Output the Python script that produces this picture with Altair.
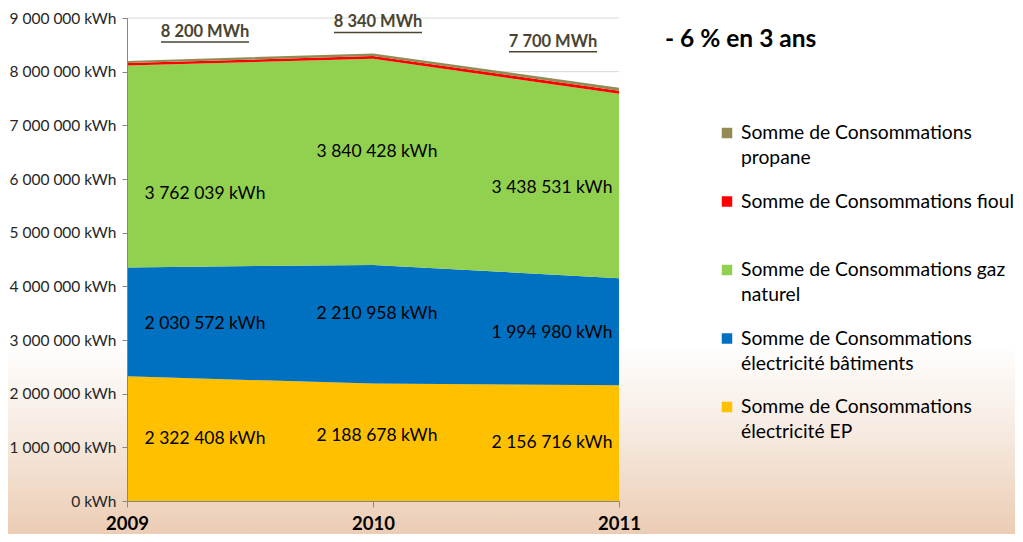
import altair as alt
import pandas as pd

years = [2009, 2010, 2011]
series = [
    "Somme de Consommations électricité EP",
    "Somme de Consommations électricité bâtiments",
    "Somme de Consommations gaz naturel",
    "Somme de Consommations fioul",
    "Somme de Consommations propane",
]
ep = [2322408, 2188678, 2156716]
bat = [2030572, 2210958, 1994980]
gaz = [3762039, 3840428, 3438531]
fioul = [45000, 50000, 55000]
propane = [40000, 50000, 55000]
colors = ["#FFC000", "#0070C0", "#92D050", "#FF0000", "#948A54"]
legend_lines = [
    "Somme de Consommations\nélectricité EP",
    "Somme de Consommations\nélectricité bâtiments",
    "Somme de Consommations gaz\nnaturel",
    "Somme de Consommations fioul",
    "Somme de Consommations\npropane",
]
totals_labels = ["8 200 MWh", "8 340 MWh", "7 700 MWh"]
change_label = "- 6 % en 3 ans"
y_ticks = [0, 1000000, 2000000, 3000000, 4000000, 5000000, 6000000, 7000000, 8000000, 9000000]

FONT = "Lato"
W, H = 492, 483
YMAX = 9000000

values = [ep, bat, gaz, fioul, propane]
rows = []
for si, (name, vals) in enumerate(zip(series, values)):
    for y, v in zip(years, vals):
        rows.append({"year": str(y), "series": name, "value": v, "order": si})
df = pd.DataFrame(rows)

x_scale = alt.Scale(type="point", domain=[str(y) for y in years], padding=0)
y_scale = alt.Scale(domain=[0, YMAX], nice=False)
x_axis = alt.Axis(title=None, grid=False, zindex=1, labelAngle=0,
                  labelFontSize=18.5, labelFontWeight="bold", labelColor="#000000",
                  labelPadding=7, tickSize=6, tickColor="#868686", labelOverlap=False,
                  domainColor="#868686", labelFont=FONT, labelFlush=False)
y_axis = alt.Axis(values=y_ticks, title=None, grid=False, zindex=1,
                  labelExpr="replace(format(datum.value, ','), /,/g, ' ') + ' kWh'",
                  labelFontSize=15.5, labelColor="#262626", labelFont=FONT,
                  tickSize=5, tickColor="#868686", labelOverlap=False,
                  domainColor="#868686", labelPadding=6)

bg = alt.Chart(pd.DataFrame({"a": [0]})).mark_rect(
    color=alt.Gradient(gradient="linear", x1=0, x2=0, y1=0, y2=1,
                       stops=[alt.GradientStop(offset=0, color="#ffffff"),
                              alt.GradientStop(offset=0.63, color="#ffffff"),
                              alt.GradientStop(offset=0.8, color="#F6EAE0"),
                              alt.GradientStop(offset=1, color="#EBCAB0")])
).encode(x=alt.value(-127), x2=alt.value(900), y=alt.value(-18), y2=alt.value(524))

grid = alt.Chart(pd.DataFrame({"v": y_ticks})).mark_rule(color="#d9d9d9", strokeWidth=1).encode(
    y=alt.Y("v:Q", scale=y_scale, axis=y_axis), x=alt.value(0), x2=alt.value(W)
)

area = alt.Chart(df).mark_area(opacity=1).encode(
    x=alt.X("year:O", scale=x_scale, axis=x_axis),
    y=alt.Y("value:Q", stack="zero", scale=y_scale, axis=y_axis),
    color=alt.Color("series:N", scale=alt.Scale(domain=series, range=colors), legend=None),
    order=alt.Order("order:Q"),
)

# value labels at the middle of each main band (with Excel-like placement offsets)
dxs = {2009: 78, 2010: 4, 2011: -67}
dys = {(2009, 0): 0, (2009, 1): 2, (2009, 2): 28,
       (2010, 0): -6, (2010, 1): -10, (2010, 2): -10,
       (2011, 0): 0, (2011, 1): 1, (2011, 2): 2}
label_layers = []
for y_i, yr in enumerate(years):
    base = 0
    for si in range(3):
        v = values[si][y_i]
        ldf = pd.DataFrame({"year": [str(yr)], "mid": [base + v / 2],
                            "text": [f"{v:,}".replace(",", " ") + " kWh"]})
        base += v
        label_layers.append(
            alt.Chart(ldf).mark_text(
                dx=dxs[yr], dy=dys[(yr, si)], fontSize=17.5, font=FONT, color="#000000"
            ).encode(x=alt.X("year:O", scale=x_scale, axis=x_axis),
                     y=alt.Y("mid:Q", scale=y_scale, axis=y_axis), text="text:N")
        )

# totals annotations
tot_vals = [sum(v[i] for v in values) for i in range(3)]
tot_df = pd.DataFrame({"year": [str(y) for y in years], "total": tot_vals, "text": totals_labels})
tdx = {2009: 78, 2010: 5, 2011: -66}
tdy = {2009: -29, 2010: -31, 2011: -46}
tot_layers = []
for i, yr in enumerate(years):
    tot_layers.append(
        alt.Chart(tot_df[tot_df.year == str(yr)]).mark_text(
            dx=tdx[yr], dy=tdy[yr], fontSize=16.5, fontWeight="bold", font=FONT, color="#4A4530"
        ).encode(x=alt.X("year:O", scale=x_scale, axis=x_axis),
                 y=alt.Y("total:Q", scale=y_scale, axis=y_axis), text="text:N")
    )
    xp = (yr - 2009) * W / 2 + tdx[yr]
    yp = H * (1 - tot_vals[i] / YMAX) + tdy[yr] + 10
    tot_layers.append(
        alt.Chart(pd.DataFrame({"a": [0]})).mark_rule(color="#4A4530", strokeWidth=1.5).encode(
            x=alt.value(xp - 44), x2=alt.value(xp + 44), y=alt.value(yp)
        )
    )

change = alt.Chart(pd.DataFrame({"t": [change_label]})).mark_text(
    align="left", baseline="middle", fontSize=24.5, fontWeight="bold", font=FONT, color="#000000"
).encode(x=alt.value(538), y=alt.value(22), text="t:N")

# custom legend (top entry first)
leg_df = pd.DataFrame({"series": series, "label": legend_lines})
leg_df["row"] = [4, 3, 2, 1, 0]
leg_df["ly"] = 115 + leg_df["row"] * 68.5
leg_sq = alt.Chart(leg_df).mark_square(size=110, opacity=1).encode(
    x=alt.value(600),
    y=alt.Y("ly:Q", scale=None),
    color=alt.Color("series:N", scale=alt.Scale(domain=series, range=colors), legend=None),
)
leg_tx = alt.Chart(leg_df).mark_text(
    align="left", baseline="middle", fontSize=19.3, font=FONT, color="#000000",
    lineBreak="\n", lineHeight=25
).encode(x=alt.value(614), y=alt.Y("ly:Q", scale=None), text="label:N")

chart = alt.layer(bg, grid, area, *label_layers, *tot_layers, change, leg_sq, leg_tx).properties(
    width=W, height=H,
    autosize=alt.AutoSizeParams(type="none"),
    padding={"left": 119, "top": 10, "right": 396, "bottom": 33},
).configure_view(stroke=None)

chart.save("out.html", embed_options={"renderer": "svg", "actions": False})
